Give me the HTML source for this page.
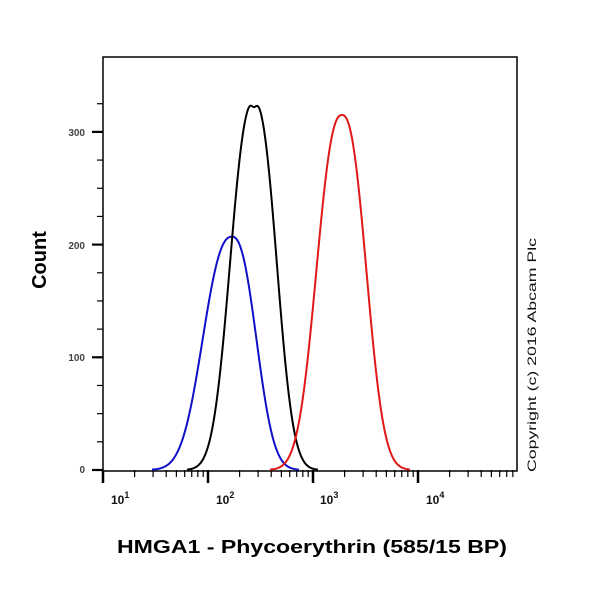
<!DOCTYPE html>
<html><head><meta charset="utf-8"><style>
html,body{margin:0;padding:0;background:#fff;}
svg{display:block;font-family:"Liberation Sans",Arial,sans-serif;}
</style></head><body>
<svg id="s" width="600" height="600" viewBox="0 0 600 600" xmlns="http://www.w3.org/2000/svg">
<rect width="600" height="600" fill="#fff"/>
<rect x="103" y="57" width="414" height="414" fill="none" stroke="#000" stroke-width="1.5"/>
<g id="ticks" stroke="#000"></g>
<g font-size="10" font-weight="bold" fill="#444" text-anchor="end">
<text x="85" y="136">300</text>
<text x="85" y="249">200</text>
<text x="85" y="361">100</text>
<text x="85" y="473">0</text>
</g>
<g font-size="12" font-weight="bold" fill="#111">
<text x="111" y="504">10<tspan font-size="9" dy="-6">1</tspan></text>
<text x="216" y="504">10<tspan font-size="9" dy="-6">2</tspan></text>
<text x="320" y="504">10<tspan font-size="9" dy="-6">3</tspan></text>
<text x="426" y="504">10<tspan font-size="9" dy="-6">4</tspan></text>
</g>
<text x="46" y="260" font-size="20" font-weight="bold" text-anchor="middle" transform="rotate(-90 46 260)">Count</text>
<text x="117" y="553" font-size="18" font-weight="bold" textLength="390" lengthAdjust="spacingAndGlyphs">HMGA1 - Phycoerythrin (585/15 BP)</text>
<text x="536" y="472" font-size="12" fill="#111" textLength="234" lengthAdjust="spacingAndGlyphs" transform="rotate(-90 536 472)">Copyright (c) 2016 Abcam Plc</text>
<path id="blue" fill="none" stroke="#1010c8" stroke-width="2"/>
<path id="black" fill="none" stroke="#000" stroke-width="2"/>
<path id="red" fill="none" stroke="#e01818" stroke-width="2"/>
</svg>
<script>
var t=document.getElementById('ticks'),h='';
function L(a,b,c,d,w){h+='<line x1="'+a+'" y1="'+b+'" x2="'+c+'" y2="'+d+'" stroke-width="'+w+'"/>';}
for(var v=0;v<=325;v+=25){var y=470-1.127*v;if(v%100==0)L(92,y,103,y,2.2);else L(97,y,103,y,1.2);}
for(var d=1;d<=4;d++){var x0=103+(d-1)*105;L(x0,470,x0,483,2.5);
 for(var m=2;m<=9;m++){var x=x0+105*Math.log10(m);if(x<517)L(x,470,x,477,1.2);}}
t.innerHTML=h;
function curve(id,c,s,peak,skewL,bump){var p='';
 for(var x=104;x<=516;x+=1){var sg=x<c?s*skewL:s;var z=Math.abs((x-c)/sg);var v=peak*Math.exp(-0.5*Math.pow(z,2.4));
  if(bump)v-=bump*Math.exp(-0.5*Math.pow((x-c)/2.5,2));
  if(v<0.3)continue;
  var y=470-1.127*v;p+=(p?'L':'M')+x+' '+y.toFixed(1);}
 document.getElementById(id).setAttribute('d',p);}
curve('blue',232,23,207,1.2,0);
curve('red',342,23,315,1.05,0);
curve('black',254,21.5,327,1.05,5);
</script>
</body></html>
